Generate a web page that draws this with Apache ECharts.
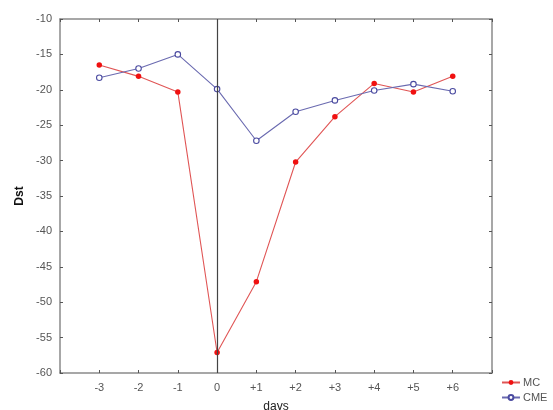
<!DOCTYPE html>
<html>
<head>
<meta charset="utf-8">
<script src="https://cdn.jsdelivr.net/npm/echarts@6/dist/echarts.min.js"></script>
<style>
  html, body { margin: 0; padding: 0; background: #fff; }
  #main { width: 553px; height: 410px; }
</style>
</head>
<body>
<div id="main"></div>
<script>
// days relative to event onset
var days = [-3, -2, -1, 0, 1, 2, 3, 4, 5, 6];
// mean Dst, magnetic clouds
var mcDst = [-16.5, -18.1, -20.3, -57.1, -47.1, -30.2, -23.8, -19.1, -20.3, -18.1];
// mean Dst, CMEs
var cmeDst = [-18.3, -17.0, -15.0, -19.9, -27.2, -23.1, -21.5, -20.1, -19.2, -20.2];

function pairs(ys) {
  return days.map(function (d, i) { return [d, ys[i]]; });
}

var axisGray = '#8a8a8a';
var labelGray = '#555';

var myChart = echarts.init(document.getElementById('main'));

myChart.setOption({
  animation: false,
  textStyle: { fontFamily: 'Arial, Liberation Sans, sans-serif' },
  grid: { left: 60, top: 19, right: 61, bottom: 37, containLabel: false, outerBoundsMode: 'none' },
  legend: {
    orient: 'vertical',
    left: 496,
    top: 372,
    itemWidth: 18,
    itemHeight: 6,
    itemGap: 4,
    textStyle: { fontSize: 11, color: labelGray, padding: [0, 0, 0, -2] },
    data: ['MC', 'CME']
  },
  xAxis: [{
    type: 'value',
    min: -4,
    max: 7,
    interval: 1,
    name: 'days',
    nameLocation: 'middle',
    nameGap: 28,
    nameTextStyle: { fontSize: 12, color: '#222' },
    axisLine: { onZero: false, lineStyle: { color: axisGray, width: 1.5 } },
    axisTick: { inside: true, length: 3, lineStyle: { color: '#555' } },
    axisLabel: {
      fontSize: 11, color: labelGray, margin: 9,
      formatter: function (v) {
        if (v < -3 || v > 6) return '';
        return v > 0 ? '+' + v : String(v);
      }
    },
    splitLine: { show: false }
  }, {
    type: 'value',
    position: 'top',
    min: -4,
    max: 7,
    interval: 1,
    axisLine: { onZero: false, lineStyle: { color: axisGray, width: 1.5 } },
    axisTick: { inside: true, length: 3, lineStyle: { color: '#555' } },
    axisLabel: { show: false },
    splitLine: { show: false }
  }],
  yAxis: [{
    type: 'value',
    min: -60,
    max: -10,
    interval: 5,
    name: 'Dst',
    nameLocation: 'middle',
    nameGap: 33,
    nameRotate: 90,
    nameTextStyle: { fontSize: 12, fontWeight: 'bold', color: '#111' },
    axisLine: { show: true, onZero: false, lineStyle: { color: axisGray, width: 1.5 } },
    axisTick: { show: true, inside: true, length: 3, lineStyle: { color: '#555' } },
    axisLabel: { fontSize: 11, color: labelGray, margin: 8 },
    splitLine: { show: false }
  }, {
    type: 'value',
    position: 'right',
    min: -60,
    max: -10,
    interval: 5,
    axisLine: { show: true, onZero: false, lineStyle: { color: axisGray, width: 1.5 } },
    axisTick: { show: true, inside: true, length: 3, lineStyle: { color: '#555' } },
    axisLabel: { show: false },
    splitLine: { show: false }
  }],
  series: [{
    name: 'MC',
    type: 'line',
    data: pairs(mcDst),
    symbol: 'circle',
    symbolSize: 5.5,
    itemStyle: { color: '#f01010' },
    lineStyle: { color: '#e05555', width: 1.1 },
    z: 3,
    markLine: {
      silent: true,
      symbol: 'none',
      label: { show: false },
      lineStyle: { color: '#444', width: 1.2, type: 'solid' },
      data: [{ xAxis: 0 }]
    }
  }, {
    name: 'CME',
    type: 'line',
    data: pairs(cmeDst),
    symbol: 'circle',
    symbolSize: 5.5,
    itemStyle: { color: '#fff', borderColor: '#4a4aa0', borderWidth: 1.1 },
    lineStyle: { color: '#6a6ab0', width: 1.1 },
    z: 4
  }]
});
</script>
</body>
</html>
